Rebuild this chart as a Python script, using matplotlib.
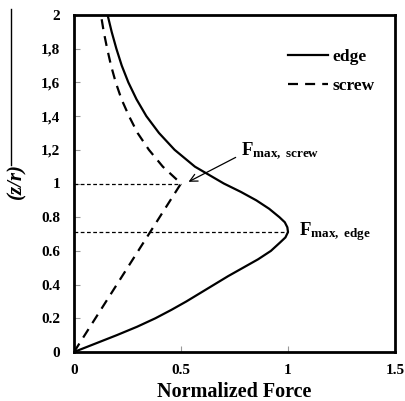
import matplotlib
matplotlib.use("Agg")
import matplotlib.pyplot as plt
from matplotlib.lines import Line2D

# ── data (z/r on y, normalized force on x) ─────────────────────────────────
edge_zr    = [0.0, 0.05, 0.10, 0.15, 0.20, 0.25, 0.30, 0.35, 0.40, 0.45,
              0.50, 0.55, 0.60, 0.65, 0.68, 0.712, 0.74, 0.77, 0.80, 0.85,
              0.90, 0.95, 1.00, 1.10, 1.20, 1.30, 1.40, 1.50, 1.60, 1.70,
              1.80, 1.90, 2.00]
edge_force = [0.0, 0.10, 0.20, 0.295, 0.38, 0.455, 0.525, 0.59, 0.655, 0.72,
              0.79, 0.86, 0.92, 0.963, 0.988, 1.0, 0.997, 0.985, 0.96, 0.912,
              0.852, 0.78, 0.70, 0.565, 0.47, 0.397, 0.338, 0.292, 0.254,
              0.223, 0.198, 0.176, 0.157]

screw_zr    = [0.0, 1.00, 1.10, 1.20, 1.30, 1.40, 1.50, 1.60, 1.70, 1.80,
               1.90, 2.00]
screw_force = [0.0, 0.50, 0.415, 0.35, 0.297, 0.257, 0.222, 0.195, 0.173,
               0.155, 0.139, 0.126]

fmax_edge  = (1.0, 0.712)    # (force, z/r)
fmax_screw = (0.5, 1.0)

yticks = [0, 0.2, 0.4, 0.6, 0.8, 1.0, 1.2, 1.4, 1.6, 1.8, 2.0]
ytick_labels = ["0", "0.2", "0.4", "0.6", "0.8", "1", "1,2", "1,4", "1,6", "1,8", "2"]
xticks = [0, 0.5, 1.0, 1.5]
xtick_labels = ["0", "0.5", "1", "1.5"]

plt.rcParams["font.family"] = ["Liberation Serif", "DejaVu Serif"]
plt.rcParams["font.weight"] = "bold"
plt.rcParams["mathtext.fontset"] = "custom"
plt.rcParams["mathtext.rm"] = "Liberation Serif:bold"
plt.rcParams["mathtext.bf"] = "Liberation Serif:bold"
plt.rcParams["mathtext.it"] = "Liberation Serif:bold:italic"

fig = plt.figure(figsize=(4.05, 4.01), dpi=100)
ax = fig.add_axes([74 / 405, 49 / 401, 321 / 405, 337 / 401])

dash = (0, (4.5, 3.2))
ax.plot(edge_force, edge_zr, color="black", lw=1.6, label="edge",
        solid_joinstyle="round")
ax.plot(screw_force, screw_zr, color="black", lw=1.6, linestyle=dash,
        label="screw")

# guide lines to the maxima
ax.plot([0, fmax_screw[0]], [fmax_screw[1]] * 2, color="black", lw=0.9,
        linestyle=(0, (3, 2)))
ax.plot([0, fmax_edge[0]], [fmax_edge[1]] * 2, color="black", lw=0.9,
        linestyle=(0, (3, 2)))

ax.annotate(r"F$_{\mathregular{max,\ screw}}$", xy=(0.535, 1.01),
            xytext=(0.78, 1.19), fontsize=13.5, va="center", ha="left",
            arrowprops=dict(arrowstyle="->", color="black", lw=0.9,
                            shrinkA=2, shrinkB=0,
                            relpos=(0.0, 0.35)))
ax.text(1.05, fmax_edge[1], r"F$_{\mathregular{max,\ edge}}$", fontsize=13.5,
        va="center", ha="left")

ax.set_xlim(0, 1.5)
ax.set_ylim(0, 2)
ax.set_xticks(xticks)
ax.set_xticklabels(xtick_labels)
ax.set_yticks(yticks)
ax.set_yticklabels(ytick_labels)
ax.tick_params(direction="in", length=4, width=0.8, color="#999999",
               labelsize=11)
ax.tick_params(axis="y", pad=10)
ax.tick_params(axis="x", pad=9)
for s in ax.spines.values():
    s.set_linewidth(2.0)

ax.set_xlabel("Normalized Force", fontsize=14.5, fontweight="bold", labelpad=3)

leg = ax.legend(loc="upper left", bbox_to_anchor=(0.64, 0.925), frameon=False,
                fontsize=12.5, handlelength=2.3, handletextpad=0.25,
                labelspacing=0.75, borderpad=0)

# y label sits far to the left with a rule above it
fig.text(16 / 405, 1 - 181 / 401, "(z/r)", rotation=90, fontsize=15,
         fontweight="bold", fontstyle="italic", ha="center", va="center")
fig.add_artist(Line2D([11 / 405, 11 / 405], [1 - 9 / 401, 1 - 165 / 401],
                      color="black", lw=1.0))

fig.savefig("out.png", dpi=100)
